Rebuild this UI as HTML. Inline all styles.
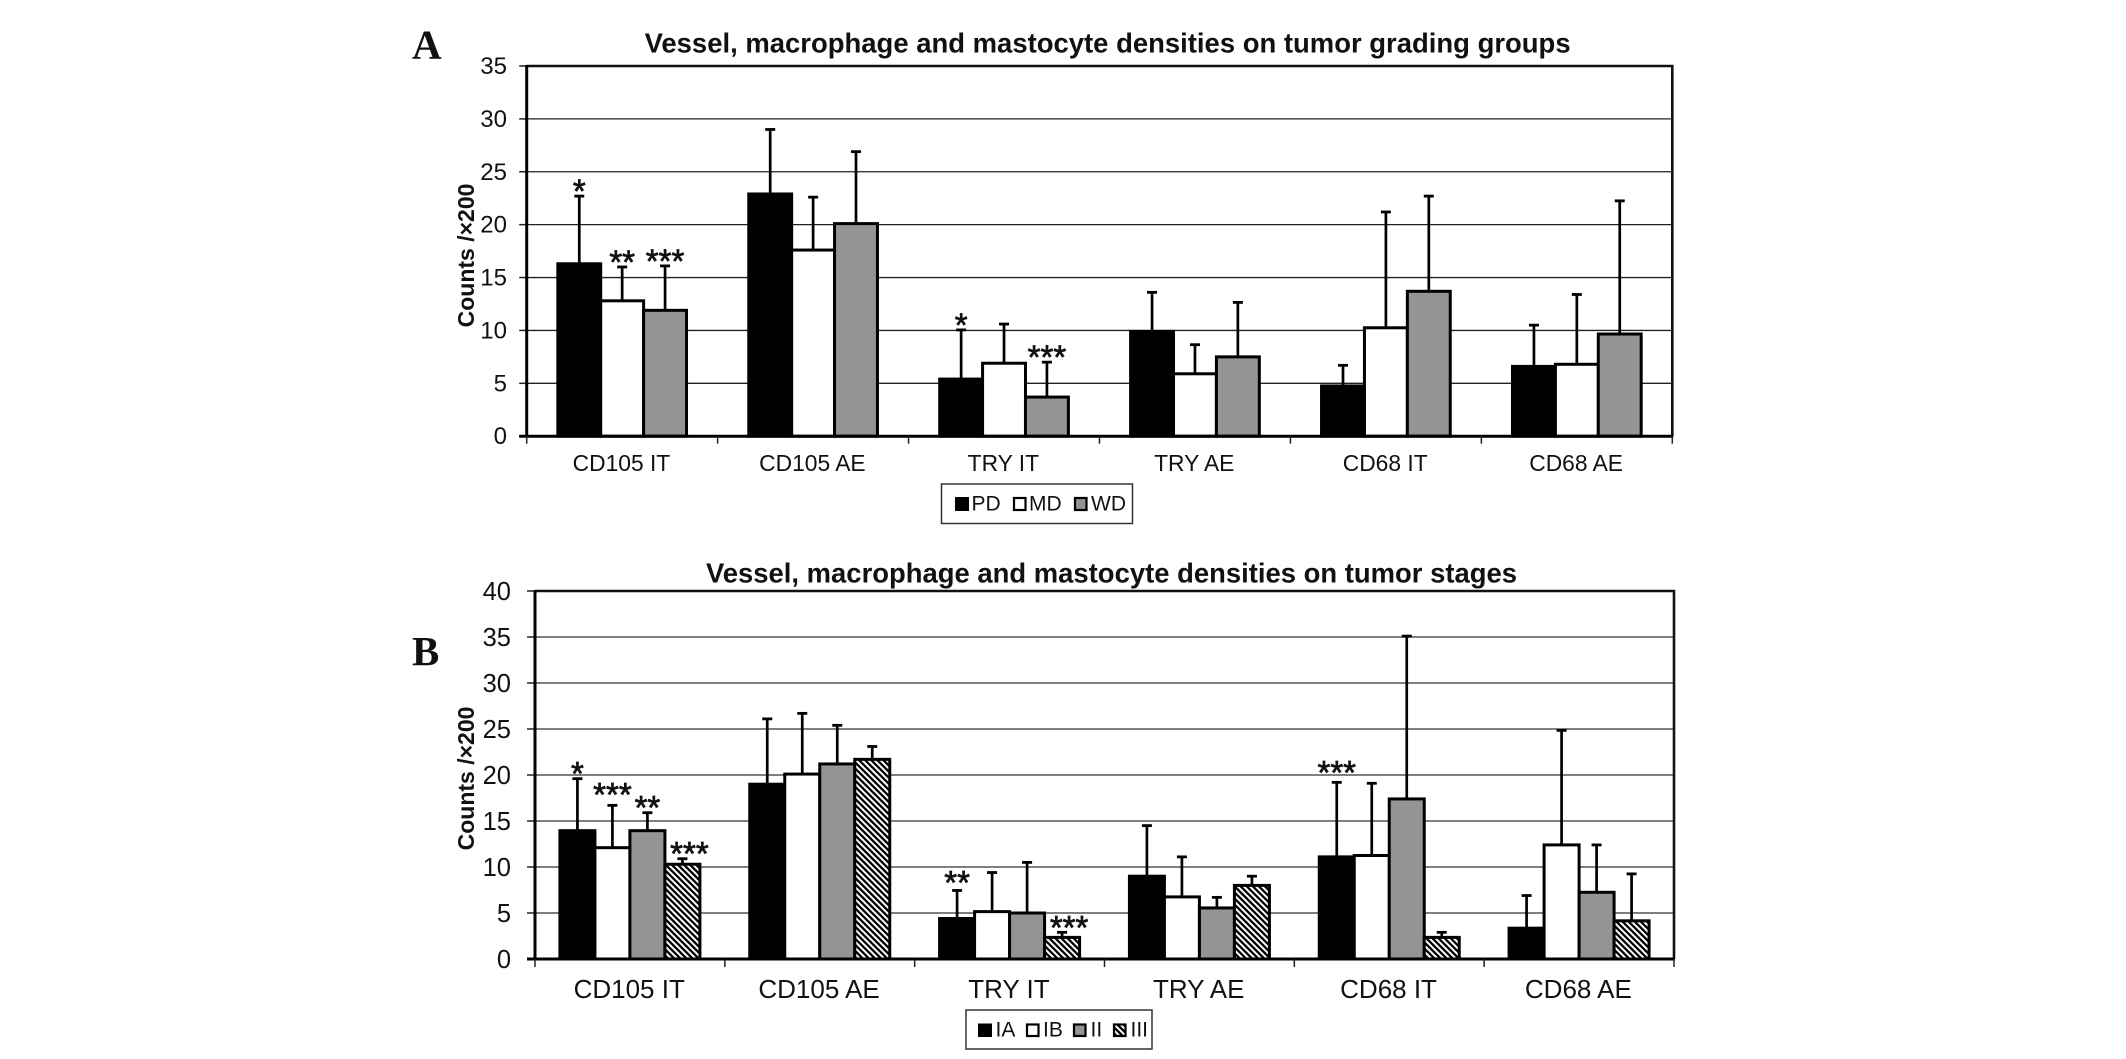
<!DOCTYPE html>
<html lang="en">
<head>
<meta charset="utf-8">
<title>Vessel, macrophage and mastocyte densities</title>
<style>
html,body{margin:0;padding:0;background:#fff;}
svg{display:block;}
text{font-family:"Liberation Sans",Arial,sans-serif;fill:#111;}
</style>
</head>
<body>
<svg id="figure" xmlns="http://www.w3.org/2000/svg" width="2126" height="1059" viewBox="0 0 2126 1059">
  <defs>
    <pattern id="hatch" width="4.3" height="4.3" patternUnits="userSpaceOnUse" patternTransform="rotate(-45)">
      <rect width="4.3" height="4.3" fill="#fff"></rect>
      <rect width="2.3" height="4.3" fill="#000"></rect>
    </pattern>
  </defs>
  <rect x="0" y="0" width="2126" height="1059" fill="#fff"></rect>

  <text x="412" y="58.5" font-size="41" font-weight="bold" style="font-family:'Liberation Serif',serif">A</text>
  <text x="412" y="665" font-size="41" font-weight="bold" style="font-family:'Liberation Serif',serif">B</text>

  <text x="644.6" y="52.5" font-size="28" font-weight="bold" textLength="926" lengthAdjust="spacingAndGlyphs">Vessel, macrophage and mastocyte densities on tumor grading groups</text>
  <text x="706" y="582.5" font-size="28" font-weight="bold" textLength="811" lengthAdjust="spacingAndGlyphs">Vessel, macrophage and mastocyte densities on tumor stages</text>

  <text transform="translate(474,255.5) rotate(-90)" text-anchor="middle" font-size="23" font-weight="bold">Counts /×200</text>
  <text transform="translate(474,778.5) rotate(-90)" text-anchor="middle" font-size="23" font-weight="bold">Counts /×200</text>

  <g id="chart-a"></g>
  <g id="chart-b"></g>

  <g>
    <rect x="941.5" y="484" width="191" height="39.5" fill="#fff" stroke="#333" stroke-width="1.5"></rect>
    <rect x="956" y="498" width="12" height="12" fill="#000" stroke="#000" stroke-width="2"></rect>
    <text x="971.5" y="510.5" font-size="21">PD</text>
    <rect x="1014" y="498" width="11.5" height="12" fill="#fff" stroke="#000" stroke-width="2.2"></rect>
    <text x="1029" y="510.5" font-size="21">MD</text>
    <rect x="1075" y="498" width="11.5" height="12" fill="#949494" stroke="#000" stroke-width="2.2"></rect>
    <text x="1091" y="510.5" font-size="21">WD</text>
  </g>

  <g>
    <rect x="966" y="1010" width="186" height="39" fill="#fff" stroke="#333" stroke-width="1.5"></rect>
    <rect x="979" y="1024.5" width="12" height="11.5" fill="#000" stroke="#000" stroke-width="2"></rect>
    <text x="995.5" y="1036.5" font-size="21">IA</text>
    <rect x="1027" y="1024.5" width="11.5" height="11.5" fill="#fff" stroke="#000" stroke-width="2.2"></rect>
    <text x="1043" y="1036.5" font-size="21">IB</text>
    <rect x="1074" y="1024.5" width="11.5" height="11.5" fill="#949494" stroke="#000" stroke-width="2.2"></rect>
    <text x="1090.5" y="1036.5" font-size="21">II</text>
    <rect x="1114" y="1024.5" width="11.5" height="11.5" fill="url(#hatch)" stroke="#000" stroke-width="2.2"></rect>
    <text x="1130.5" y="1036.5" font-size="21">III</text>
  </g>
</svg>

<script>
// ---- shared categories ----
const categories = ["CD105 IT", "CD105 AE", "TRY IT", "TRY AE", "CD68 IT", "CD68 AE"];

// ---- chart A: tumor grading groups ----
const ticksA = [0, 5, 10, 15, 20, 25, 30, 35];
const seriesNamesA = ["PD", "MD", "WD"];
const pdMeans = [16.3, 22.9, 5.4, 9.9, 4.75, 6.6];
const pdUpper = [22.7, 29.0, 10.05, 13.6, 6.7, 10.5];
const mdMeans = [12.8, 17.6, 6.9, 5.9, 10.25, 6.8];
const mdUpper = [16.0, 22.6, 10.6, 8.65, 21.2, 13.4];
const wdMeans = [11.9, 20.1, 3.7, 7.5, 13.7, 9.66];
const wdUpper = [16.1, 26.9, 7.0, 12.65, 22.7, 22.25];
const pdStars = ["*", "", "*", "", "", ""];
const mdStars = ["**", "", "", "", "", ""];
const wdStars = ["***", "", "***", "", "", ""];

// ---- chart B: tumor stages ----
const ticksB = [0, 5, 10, 15, 20, 25, 30, 35, 40];
const seriesNamesB = ["IA", "IB", "II", "III"];
const iaMeans = [13.95, 19.0, 4.4, 9.0, 11.1, 3.35];
const iaUpper = [19.6, 26.1, 7.45, 14.5, 19.2, 6.9];
const ibMeans = [12.1, 20.1, 5.15, 6.75, 11.25, 12.4];
const ibUpper = [16.7, 26.7, 9.4, 11.1, 19.1, 24.85];
const iiMeans = [13.95, 21.2, 5.0, 5.55, 17.4, 7.25];
const iiUpper = [15.9, 25.4, 10.5, 6.7, 35.1, 12.4];
const iiiMeans = [10.3, 21.7, 2.35, 8.0, 2.35, 4.15];
const iiiUpper = [10.9, 23.1, 2.9, 9.0, 2.9, 9.25];
const iaStars = ["*", "", "**", "", "***", ""];
const ibStars = ["***", "", "", "", "", ""];
const iiStars = ["**", "", "", "", "", ""];
const iiiStars = ["***", "", "***", "", "", ""];

const SVG_NS = "http://www.w3.org/2000/svg";
const FILLS = ["#000", "#fff", "#949494", "url(#hatch)"];

function make(tag, attrs, parent) {
  const node = document.createElementNS(SVG_NS, tag);
  for (const key in attrs) node.setAttribute(key, attrs[key]);
  parent.appendChild(node);
  return node;
}

function drawChart(root, means, upper, stars, names, ticks, cfg) {
  const yScale = v => cfg.bottom - (v / ticks[ticks.length - 1]) * (cfg.bottom - cfg.top);
  const catWidth = (cfg.right - cfg.left) / categories.length;
  const groupWidth = cfg.barWidth * means.length;
  const barX = (c, s) => cfg.left + catWidth * c + (catWidth - groupWidth) / 2 + cfg.barWidth * s;

  ticks.forEach(t => {
    const y = yScale(t);
    if (t > 0 && t < ticks[ticks.length - 1]) {
      const grid = make("line", {x1: cfg.left, x2: cfg.right, y1: y, y2: y, stroke: cfg.gridColor, "stroke-width": cfg.gridWidth}, root);
      
      
    }
    const tick = make("line", {x1: cfg.left - cfg.tick, x2: cfg.left, y1: y, y2: y, stroke: "#222", "stroke-width": 1.5}, root);
    
    
    const label = make("text", {x: cfg.labelRight, y: y + cfg.labelDrop, "text-anchor": "end", "font-size": cfg.tickFont}, root);
    
    
    label.textContent = String(t);
  });

  const frame = make("path", {d: "M" + cfg.left + " " + cfg.top + "H" + cfg.right + "V" + cfg.bottom, fill: "none", stroke: "#111", "stroke-width": 2.6}, root);
  
  

  means.forEach((seriesValues, s) => {
    seriesValues.forEach((value, c) => {
      const x = barX(c, s);
      const center = x + cfg.barWidth / 2;
      const errTop = yScale(upper[s][c]);

      const stem = make("line", {x1: center, x2: center, y1: errTop, y2: yScale(value), stroke: "#000", "stroke-width": 2.7}, root);
      
      

      const cap = make("line", {x1: center - 5, x2: center + 5, y1: errTop, y2: errTop, stroke: "#000", "stroke-width": 2.8}, root);
      
      

      const bar = make("rect", {x: x, y: yScale(value), width: cfg.barWidth, height: cfg.bottom - yScale(value), fill: FILLS[s], stroke: "#000", "stroke-width": 3}, root);
      
      

      const mark = stars[s][c];
      if (mark) {
        const nudge = cfg.starNudge[s + "-" + c] || [0, 0];
        const star = make("text", {x: center + nudge[0], y: errTop - 11 + nudge[1] + 17.5, "text-anchor": "middle", "font-size": 33, stroke: "#111", "stroke-width": 0.7}, root);
        
        
        star.textContent = mark;
      }
    });
  });

  const xAxis = make("line", {x1: cfg.left - cfg.tick, x2: cfg.right + 1, y1: cfg.bottom, y2: cfg.bottom, stroke: "#000", "stroke-width": 3}, root);
  
  

  const yAxis = make("line", {x1: cfg.left, x2: cfg.left, y1: cfg.top - 1, y2: cfg.bottom + 1, stroke: "#000", "stroke-width": 3}, root);
  
  

  for (let i = 0; i <= categories.length; i++) {
    const x = cfg.left + catWidth * i;
    const xTick = make("line", {x1: x, x2: x, y1: cfg.bottom, y2: cfg.bottom + cfg.tick, stroke: "#222", "stroke-width": 1.5}, root);
    
    
  }

  categories.forEach((name, c) => {
    const label = make("text", {x: cfg.left + catWidth * (c + 0.5) - 0.7, y: cfg.catBaseline, "text-anchor": "middle", "font-size": cfg.catFont}, root);
    
    
    label.textContent = name;
  });
}

drawChart(
  document.getElementById("chart-a"),
  [pdMeans, mdMeans, wdMeans],
  [pdUpper, mdUpper, wdUpper],
  [pdStars, mdStars, wdStars],
  seriesNamesA, ticksA,
  {left: 526.7, right: 1672.3, top: 66, bottom: 436.2, barWidth: 42.9, tick: 7.5,
   gridColor: "#222", gridWidth: 1.3, labelRight: 507, labelDrop: 8, tickFont: 24,
   catBaseline: 471, catFont: 22.8, starNudge: {}}
);

drawChart(
  document.getElementById("chart-b"),
  [iaMeans, ibMeans, iiMeans, iiiMeans],
  [iaUpper, ibUpper, iiUpper, iiiUpper],
  [iaStars, ibStars, iiStars, iiiStars],
  seriesNamesB, ticksB,
  {left: 535, right: 1674, top: 591, bottom: 959, barWidth: 35, tick: 8,
   gridColor: "#555", gridWidth: 1.6, labelRight: 511, labelDrop: 9, tickFont: 25.5,
   catBaseline: 998, catFont: 26,
   starNudge: {"1-0": [0, -6], "3-0": [7, 0], "0-2": [0, -3], "3-2": [7, 0], "0-4": [0, -5]}}
);
</script>
</body>
</html>
